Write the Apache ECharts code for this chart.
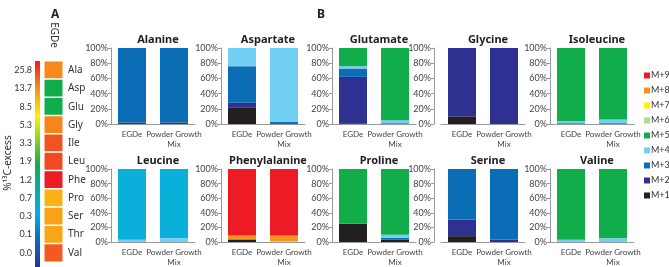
<html>
<head>
<meta http-equiv="Content-Type" content="text/html; charset=utf-8" />
<style type="text/css">
body {margin: 0; background-color: white}
</style>
</head>
<body>
<div id="main" style="width:669px;height:267px;"></div>
</body>

<script src="https://cdn.jsdelivr.net/npm/echarts@6/dist/echarts.min.js"></script>
<script type="text/javascript">

// isotopologue fractions (%), rows: [EGDe, Powder Growth Mix], cols: M+1 .. M+9
var isotopologues = ['M+1', 'M+2', 'M+3', 'M+4', 'M+5', 'M+6', 'M+7', 'M+8', 'M+9'];
var samples = ['EGDe', 'Powder Growth\nMix'];
var alanine       = [[0, 2, 98, 0, 0, 0, 0, 0, 0], [0, 2, 98, 0, 0, 0, 0, 0, 0]];
var aspartate     = [[22, 6, 48, 24, 0, 0, 0, 0, 0], [0, 0, 3, 97, 0, 0, 0, 0, 0]];
var glutamate     = [[1, 61, 11, 3, 24, 0, 0, 0, 0], [0, 0, 1, 4, 95, 0, 0, 0, 0]];
var glycine       = [[10, 90, 0, 0, 0, 0, 0, 0, 0], [0, 100, 0, 0, 0, 0, 0, 0, 0]];
var isoleucine    = [[0, 0, 1, 3, 96, 0, 0, 0, 0], [0, 0, 1, 5, 94, 0, 0, 0, 0]];
var leucine       = [[0, 0, 0, 3, 0, 97, 0, 0, 0], [0, 0, 0, 5, 0, 95, 0, 0, 0]];
var phenylalanine = [[3, 0, 0, 0, 1, 0, 0, 5, 91], [0, 0, 0, 0, 0, 0, 1, 8, 91]];
var proline       = [[25, 0, 0, 0, 75, 0, 0, 0, 0], [3, 0, 3, 4, 90, 0, 0, 0, 0]];
var serine        = [[8, 23, 69, 0, 0, 0, 0, 0, 0], [0, 3, 97, 0, 0, 0, 0, 0, 0]];
var valine        = [[0, 0, 0, 3, 97, 0, 0, 0, 0], [0, 0, 0, 5, 95, 0, 0, 0, 0]];

var chartNames = ['Alanine', 'Aspartate', 'Glutamate', 'Glycine', 'Isoleucine',
                  'Leucine', 'Phenylalanine', 'Proline', 'Serine', 'Valine'];
var chartData = [alanine, aspartate, glutamate, glycine, isoleucine,
                 leucine, phenylalanine, proline, serine, valine];

// panel A heatmap: % 13C-excess in EGDe
var heatAcids = ['Ala', 'Asp', 'Glu', 'Gly', 'Ile', 'Leu', 'Phe', 'Pro', 'Ser', 'Thr', 'Val'];
var heatValues = [11.1, 1.9, 1.9, 11.3, 16.4, 18.2, 25.8, 7.8, 8.9, 8.7, 15.3];
var colorbarTicks = [25.8, 13.7, 8.5, 5.3, 3.3, 1.9, 1.2, 0.7, 0.3, 0.1, 0.0];

var isoColors = ['#231f20', '#2e3192', '#0a6db6', '#72cff4', '#12ad4b',
                 '#b5d88c', '#fff200', '#f7941d', '#ed1c24'];
var leucineMain = '#0aafda';

// nonlinear colour scale: position along the bar (0 = 0.0 ... 10 = 25.8)
var ticksAsc = colorbarTicks.slice().reverse();
function scalePos(v) {
    for (var i = 0; i < ticksAsc.length - 1; i++) {
        if (v <= ticksAsc[i + 1]) {
            return i + (v - ticksAsc[i]) / (ticksAsc[i + 1] - ticksAsc[i]);
        }
    }
    return ticksAsc.length - 1;
}

var font = 'Noto Sans';
var narrow = '"Liberation Sans Narrow", "Lato", sans-serif';
var colLeft = [111, 221, 332, 441, 550];
var rowTop = [48, 169];
var rowHeight = [76, 75];
var gridW = 84;

var grids = [], xAxes = [], yAxes = [], series = [], titles = [];

chartNames.forEach(function (name, k) {
    var col = k % 5, row = Math.floor(k / 5);
    grids.push({left: colLeft[col], top: rowTop[row], width: gridW, height: rowHeight[row]});
    titles.push({
        text: name, left: colLeft[col] + gridW / 2, top: rowTop[row] - 19, textAlign: 'center',
        textStyle: {fontFamily: font, fontSize: 11, fontWeight: 'bold', color: '#222'}
    });
    xAxes.push({
        gridIndex: k, type: 'category', data: samples,
        axisLine: {lineStyle: {color: '#999'}},
        axisTick: {length: 3, lineStyle: {color: '#999'}},
        axisLabel: {fontFamily: 'Lato', fontSize: 8, color: '#444', margin: 5, lineHeight: 10, interval: 0}
    });
    yAxes.push({
        gridIndex: k, type: 'value', min: 0, max: 100, interval: 20,
        offset: col === 3 ? 7 : 0,
        splitLine: {show: false},
        axisLine: {show: true, lineStyle: {color: '#999'}},
        axisTick: {show: true, length: 3, lineStyle: {color: '#999'}},
        axisLabel: {fontFamily: narrow, fontSize: 9, color: '#444', margin: 3, formatter: '{value}%'}
    });
    isotopologues.forEach(function (iso, j) {
        var color = isoColors[j];
        if (name === 'Leucine' && iso === 'M+6') color = leucineMain;
        series.push({
            name: iso, type: 'bar', stack: 'k' + k, xAxisIndex: k, yAxisIndex: k,
            barWidth: 28, itemStyle: {color: color},
            data: [chartData[k][0][j], chartData[k][1][j]]
        });
    });
});

// heatmap grid (panel A)
var hg = chartNames.length;
grids.push({left: 44, top: 61, width: 19, height: 201});
xAxes.push({
    gridIndex: hg, type: 'category', data: ['EGDe'], position: 'top',
    axisLine: {show: false}, axisTick: {show: false},
    axisLabel: {rotate: 90, fontFamily: font, fontSize: 10, color: '#333', margin: 13}
});
yAxes.push({
    gridIndex: hg, type: 'category', data: heatAcids, inverse: true, position: 'right',
    axisLine: {show: false}, axisTick: {show: false},
    axisLabel: {fontFamily: font, fontSize: 10, color: '#333', margin: 5}
});
yAxes.push({
    gridIndex: hg, type: 'category', data: colorbarTicks.map(function (t) { return t.toFixed(1); }),
    inverse: true, position: 'left', offset: 4,
    axisLine: {show: false}, axisTick: {show: false},
    axisLabel: {fontFamily: narrow, fontSize: 9, color: '#333', margin: 8}
});
series.push({
    type: 'heatmap', xAxisIndex: hg, yAxisIndex: hg,
    itemStyle: {borderColor: '#fff', borderWidth: 1.5},
    data: heatValues.map(function (v, i) { return [0, i, scalePos(v)]; })
});

titles.push({text: 'A', left: 46, top: 4, textStyle: {fontFamily: font, fontSize: 12, fontWeight: 'bold', color: '#222'}});
titles.push({text: 'B', left: 312, top: 4, textStyle: {fontFamily: font, fontSize: 12, fontWeight: 'bold', color: '#222'}});

var myChart = echarts.init(document.getElementById('main'));
option = {
    animation: false,
    title: titles,
    grid: grids,
    xAxis: xAxes,
    yAxis: yAxes,
    legend: {
        orient: 'vertical', left: 644, top: 71, padding: 0,
        itemWidth: 6, itemHeight: 6, itemGap: 6, icon: 'rect',
        textStyle: {fontFamily: narrow, fontSize: 9, lineHeight: 9, color: '#333', padding: [0, 0, 0, -4]},
        data: isotopologues.slice().reverse()
    },
    visualMap: {
        show: false, type: 'continuous', seriesIndex: series.length - 1, dimension: 2,
        min: 0, max: 10,
        inRange: {color: ['#2e3192', '#0a6db6', '#00aeef', '#12ad4b', '#fff200', '#f7941d', '#ed1c24']}
    },
    graphic: [
        {
            type: 'rect', shape: {x: 35, y: 61, width: 5, height: 206},
            style: {fill: new echarts.graphic.LinearGradient(0, 0, 0, 1, [
                {offset: 0, color: '#ed1c24'}, {offset: 0.14, color: '#f7941d'},
                {offset: 0.27, color: '#fff200'}, {offset: 0.5, color: '#12ad4b'},
                {offset: 0.74, color: '#00aeef'}, {offset: 0.87, color: '#0a6db6'},
                {offset: 1, color: '#2e3192'}])}
        },
        {
            type: 'text', x: 8, y: 163, rotation: Math.PI / 2,
            style: {text: '%¹³C-excess', fontFamily: font, fontSize: 10, fill: '#333',
                    textAlign: 'center', textVerticalAlign: 'middle'}
        }
    ],
    series: series
};

myChart.setOption(option);
</script>
</html>
